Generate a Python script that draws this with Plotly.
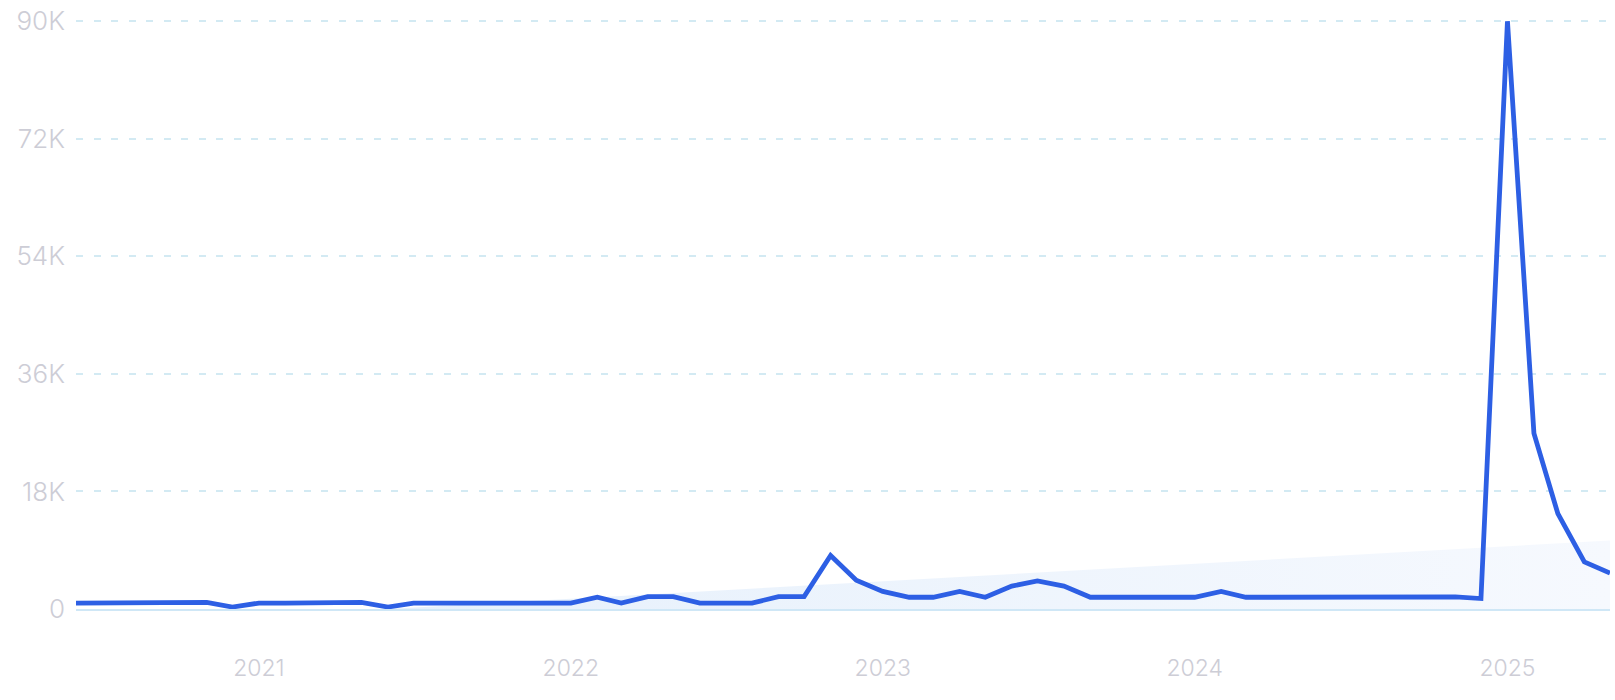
import plotly.graph_objects as go

# Monthly search volume (thousands), 2020-06 .. 2025-05
months = [f"{y}-{m:02d}-01" for y in range(2020, 2026) for m in range(1, 13)]
months = [d for d in months if "2020-06-01" <= d <= "2025-05-01"]

values_k = [
    0.9, 0.9, 0.9, 0.9, 0.9, 1.0, 0.3,            # 2020-06 .. 2020-12
    0.9, 0.9, 0.9, 0.9, 1.0, 0.3, 0.9, 0.9, 0.9, 0.9, 0.9, 0.9,   # 2021
    0.9, 1.8, 0.9, 1.9, 1.9, 0.9, 0.9, 0.9, 1.9, 1.9, 8.2, 4.4,   # 2022
    2.7, 1.8, 1.8, 2.7, 1.8, 3.5, 4.3, 3.5, 1.8, 1.8, 1.8, 1.8,   # 2023
    1.8, 2.7, 1.8, 1.8, 1.8, 1.8, 1.8, 1.8, 1.8, 1.8, 1.85, 1.6,  # 2024
    90.0, 26.9, 14.6, 7.2, 5.5,                    # 2025-01 .. 2025-05
]
values = [v * 1000 for v in values_k]

# Trend (clipped at zero)
trend_dates = ["2020-06-01", "2021-06-01", "2025-05-01"]
trend_vals = [0, 0, 10500]

y_tick_vals = [0, 18000, 36000, 54000, 72000, 90000]
y_tick_text = ["0", "18K", "36K", "54K", "72K", "90K"]
x_tick_vals = ["2021-01-01", "2022-01-01", "2023-01-01", "2024-01-01", "2025-01-01"]
x_tick_text = ["2021", "2022", "2023", "2024", "2025"]

LABEL = "#cdcdd6"
GRID = "#d3eaf3"
BLUE = "#2d5fe4"

fig = go.Figure()
fig.add_trace(go.Scatter(
    x=trend_dates, y=trend_vals, mode="lines",
    line=dict(width=0), fill="tozeroy",
    fillgradient=dict(type="horizontal",
                      colorscale=[[0, "rgba(226,238,251,1)"], [1, "rgba(246,249,254,1)"]]),
    hoverinfo="skip", showlegend=False,
))
fig.add_trace(go.Scatter(
    x=months, y=values, mode="lines",
    line=dict(color=BLUE, width=4.8),
    showlegend=False,
))

fig.update_layout(
    width=1615, height=700,
    margin=dict(l=76, r=5, t=14, b=91),
    paper_bgcolor="white", plot_bgcolor="white",
    font=dict(family="Inter", color=LABEL, weight=300),
)
fig.update_xaxes(
    type="date", range=["2020-06-01", "2025-05-01"],
    tickvals=x_tick_vals, ticktext=x_tick_text,
    tickfont=dict(size=23, color=LABEL, family="Inter", weight=300),
    showgrid=False, zeroline=False,
    showline=True, linecolor="#cfe7f6", linewidth=1.5,
    ticks="", ticklabelstandoff=38,
)
fig.update_yaxes(
    range=[0, 90500],
    tickvals=y_tick_vals, ticktext=y_tick_text,
    tickfont=dict(size=26, color=LABEL, family="Inter", weight=300),
    showgrid=True, gridcolor=GRID, gridwidth=1.5, griddash="7px,10.5px",
    zeroline=False, showline=False, ticks="", ticklabelstandoff=10,
)

fig.write_html("out.html", config={"displayModeBar": False},
               post_script="document.body.style.margin='0';")
